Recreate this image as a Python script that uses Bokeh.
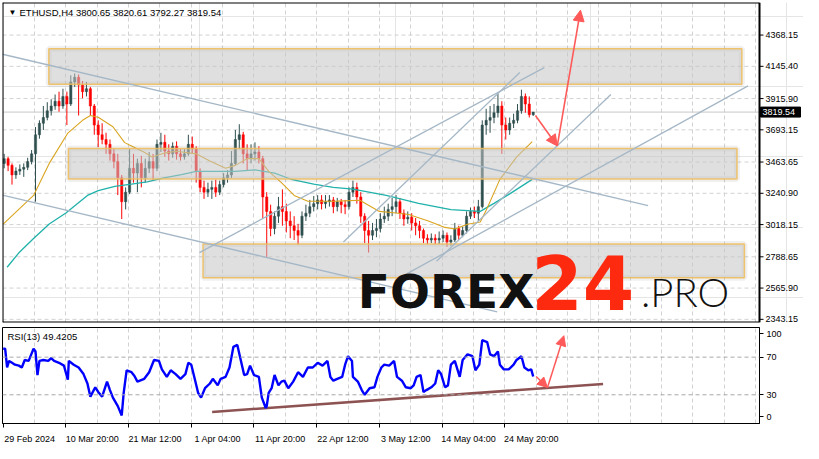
from bokeh.plotting import figure
from bokeh.layouts import column
from bokeh.models import (Range1d, FixedTicker, Label, Span, LinearAxis,
                          ColumnDataSource, Grid, Arrow, NormalHead)
from bokeh.embed import file_html
from bokeh.resources import INLINE
from bokeh.core.properties import value

FONT = "Liberation Sans"

# ---------------- data (ETHUSD H4, one candle per 4 bars) ----------------
open_ = [3454, 3488, 3440, 3372, 3399, 3413, 3426, 3467, 3522, 3658,
         3740, 3781, 3829, 3863, 3897, 3863, 3931, 3877, 4034, 4068,
         4013, 3965, 3986, 3863, 3727, 3658, 3624, 3590, 3522, 3467,
         3351, 3181, 3249, 3419, 3385, 3454, 3351, 3419, 3467, 3419,
         3590, 3604, 3542, 3522, 3576, 3522, 3501, 3522, 3590, 3556,
         3399, 3283, 3249, 3269, 3283, 3249, 3303, 3351, 3372, 3454,
         3624, 3658, 3522, 3488, 3522, 3535, 3488, 3215, 3112, 2990,
         3078, 3146, 3112, 3044, 3010, 2976, 2942, 3078, 3099, 3146,
         3167, 3194, 3167, 3181, 3194, 3146, 3181, 3160, 3146, 3249,
         3283, 3215, 3078, 2976, 2942, 2976, 2990, 3058, 3078, 3126,
         3146, 3181, 3099, 3058, 3071, 3030, 3010, 2976, 2921, 2908,
         2921, 2908, 2921, 2942, 2894, 2908, 2990, 2942, 2976, 3078,
         3112, 3099, 3146, 3727, 3761, 3781, 3815, 3863, 3727, 3692,
         3740, 3761, 3829, 3931, 3877, 3800.65]
close = [3488, 3440, 3372, 3399, 3413, 3426, 3467, 3522, 3658, 3740,
         3781, 3829, 3863, 3897, 3863, 3931, 3877, 4034, 4068, 4013,
         3965, 3986, 3863, 3727, 3658, 3624, 3590, 3522, 3467, 3351,
         3181, 3249, 3419, 3385, 3454, 3351, 3419, 3467, 3419, 3590,
         3604, 3542, 3522, 3576, 3522, 3501, 3522, 3590, 3556, 3399,
         3283, 3249, 3269, 3283, 3249, 3303, 3351, 3372, 3454, 3624,
         3658, 3522, 3488, 3522, 3535, 3488, 3215, 3112, 2990, 3078,
         3146, 3112, 3044, 3010, 2976, 2942, 3078, 3099, 3146, 3167,
         3194, 3167, 3181, 3194, 3146, 3181, 3160, 3146, 3249, 3283,
         3215, 3078, 2976, 2942, 2976, 2990, 3058, 3078, 3126, 3146,
         3181, 3099, 3058, 3071, 3030, 3010, 2976, 2921, 2908, 2921,
         2908, 2921, 2942, 2894, 2908, 2990, 2942, 2976, 3078, 3112,
         3099, 3146, 3727, 3761, 3781, 3815, 3863, 3727, 3692, 3740,
         3761, 3829, 3931, 3877, 3800.65, 3819.54]
high = [3522, 3501, 3454, 3426, 3447, 3454, 3494, 3549, 3713, 3761,
        3863, 3890, 3911, 3945, 3965, 3986, 3965, 4082, 4095, 4088,
        4041, 4034, 3999, 3877, 3761, 3740, 3672, 3624, 3556, 3522,
        3372, 3283, 3556, 3522, 3488, 3508, 3488, 3535, 3522, 3624,
        3672, 3658, 3590, 3604, 3611, 3556, 3556, 3658, 3645, 3576,
        3419, 3331, 3317, 3331, 3338, 3331, 3385, 3406, 3542, 3692,
        3733, 3679, 3590, 3590, 3604, 3576, 3508, 3249, 3160, 3112,
        3215, 3269, 3167, 3112, 3078, 3024, 3112, 3160, 3194, 3222,
        3228, 3228, 3228, 3228, 3215, 3208, 3201, 3194, 3283, 3331,
        3317, 3249, 3099, 3044, 3030, 3058, 3099, 3146, 3167, 3208,
        3228, 3208, 3126, 3112, 3099, 3065, 3044, 2990, 2949, 2955,
        2949, 2969, 2976, 2962, 2942, 3030, 3010, 3003, 3112, 3140,
        3146, 3194, 3761, 3843, 3863, 3877, 3952, 3897, 3781, 3781,
        3808, 3877, 3979, 3952, 3931, 3820.61]
low = [3419, 3399, 3303, 3344, 3372, 3358, 3406, 3447, 3181, 3630,
       3692, 3761, 3795, 3836, 3822, 3843, 3727, 3863, 3999, 3795,
       3918, 3931, 3795, 3658, 3570, 3590, 3522, 3474, 3419, 3228,
       3058, 3126, 3235, 3317, 3249, 3283, 3317, 3385, 3338, 3399,
       3535, 3501, 3474, 3494, 3481, 3474, 3481, 3508, 3522, 3317,
       3249, 3201, 3215, 3201, 3215, 3228, 3283, 3317, 3351, 3440,
       3556, 3454, 3406, 3454, 3474, 3454, 3065, 2785, 2935, 2949,
       3030, 3010, 2962, 2921, 2908, 2874, 2921, 3044, 3071, 3112,
       3126, 3126, 3133, 3146, 3099, 3112, 3099, 3092, 3126, 3215,
       3167, 3030, 2887, 2819, 2908, 2928, 2962, 3030, 3044, 3078,
       3099, 3058, 3010, 3024, 2976, 2942, 2921, 2887, 2880, 2887,
       2880, 2880, 2894, 2860, 2867, 2894, 2908, 2928, 2955, 3058,
       3065, 3044, 3133, 3658, 3672, 3740, 3781, 3522, 3624, 3658,
       3706, 3740, 3808, 3815, 3781, 3792.27]

# moving averages (bar index, price)
ma_fast_bar = [0, 31, 47, 66, 81, 89, 97, 112, 124, 131, 144, 152, 164, 177, 197, 211,
               227, 237, 249, 261, 271, 284, 297, 311, 341, 364, 384, 401, 414, 434,
               451, 461, 474, 487, 494, 507, 524, 540]
ma_fast_val = [3021, 3226, 3454, 3670, 3761, 3795, 3783, 3715, 3602, 3578, 3533, 3499,
               3527, 3540, 3522, 3471, 3419, 3440, 3488, 3488, 3397, 3317, 3226, 3184,
               3185, 3192, 3112, 3101, 3090, 3044, 2998, 2987, 3021, 3037, 3135, 3340,
               3499, 3609]
ma_slow_bar = [4, 16, 31, 47, 64, 86, 97, 114, 131, 147, 164, 182, 197, 237, 257, 277,
               294, 317, 337, 357, 391, 424, 457, 487, 501, 517, 540]
ma_slow_val = [2714, 2817, 2919, 3022, 3101, 3226, 3260, 3290, 3306, 3322, 3351, 3374,
               3397, 3397, 3408, 3385, 3341, 3306, 3283, 3271, 3226, 3169, 3124, 3112,
               3169, 3237, 3340]

# RSI(13)
rsi_bar = [0, 2, 4, 6, 9, 12, 16, 19, 22, 26, 31, 33, 35, 37, 41, 46, 49, 52, 57, 62,
           66, 67, 72, 77, 82, 86, 89, 94, 97, 101, 106, 109, 112, 117, 121, 123, 126,
           131, 134, 137, 144, 149, 154, 159, 162, 167, 171, 176, 181, 186, 189, 192,
           196, 199, 202, 206, 211, 214, 219, 222, 227, 231, 235, 239, 242, 246, 249,
           252, 256, 261, 264, 268, 269, 271, 274, 277, 281, 284, 287, 291, 296, 301,
           306, 311, 316, 321, 326, 331, 334, 337, 341, 346, 349, 352, 356, 357, 362,
           366, 369, 374, 379, 382, 386, 389, 394, 399, 402, 407, 411, 416, 419, 422,
           426, 429, 432, 437, 441, 444, 447, 451, 454, 457, 461, 466, 469, 474, 479,
           482, 486, 489, 494, 497, 501, 505, 507, 511, 516, 521, 524, 529, 532, 536,
           539, 541]
rsi_val = [79, 79, 59, 66, 64, 62, 61, 59, 67, 66, 79, 76, 51, 66, 67, 66, 69, 66, 64, 61,
           46, 66, 62, 59, 52, 42, 28, 38, 33, 28, 44, 35, 27, 18, 8, 32, 56,
           54, 50, 44, 47, 54, 67, 66, 57, 49, 56, 52, 47, 52, 64, 62,
           45, 32, 27, 37, 42, 47, 40, 47, 49, 59, 81, 83, 69, 51, 52,
           61, 51, 49, 27, 16, 18, 32, 37, 51, 40, 44, 45, 37, 44, 54,
           49, 59, 59, 64, 61, 66, 49, 45, 47, 49, 62, 71, 66, 49, 44,
           35, 30, 37, 38, 49, 59, 62, 61, 66, 49, 45, 38, 37, 40, 49,
           51, 33, 35, 38, 42, 56, 52, 38, 40, 62, 66, 49, 67, 73, 71,
           56, 62, 88, 86, 73, 71, 76, 62, 57, 57, 62, 67, 71, 59, 56,
           57, 49.42]

# support / resistance zones
zone_left = [46.6, 66.6, 204.0]
zone_right = [754.0, 749.0, 756.6]
zone_bottom = [4018.0, 3343.0, 2639.4]
zone_top = [4270.6, 3560.7, 2880.3]

# trend lines (bar, price)
tl_x0 = [-0.7, -0.7, 200.3, 347.3, 442.3, 412.3]
tl_y0 = [4231.6, 3228.4, 2818.8, 2894.0, 2757.4, 2668.7]
tl_x1 = [658.3, 504.3, 552.3, 527.3, 620.3, 760.3]
tl_y1 = [3153.3, 2395.7, 4136.1, 4101.5, 3944.7, 4006.4]

# forecast arrows on the price panel and on RSI
arrow_price_x = [543.3, 565.6, 589.3]
arrow_price_y = [3794.8, 3578.5, 4545.6]
arrow_rsi_x = [544.0, 555.6, 572.3]
arrow_rsi_y = [49.4, 37.7, 92.8]
rsi_tl_x = [213.3, 612.3]
rsi_tl_y = [11.8, 41.5]

price_ticks = [2343.15, 2565.90, 2788.65, 3018.15, 3240.90, 3463.65,
               3693.15, 3915.90, 4145.40, 4368.15]
date_tick_bars = [0, 64, 128, 192, 256, 320, 384, 448, 512]
date_labels = ["29 Feb 2024", "10 Mar 20:00", "21 Mar 12:00", "1 Apr 04:00",
               "11 Apr 20:00", "22 Apr 12:00", "3 May 12:00", "14 May 04:00",
               "24 May 20:00"]
grid_bars = list(range(32, 800, 32))
rsi_ticks = [6.5, 30, 70, 95]
rsi_tick_labels = ["0", "30", "70", "100"]

title_text = "ETHUSD,H4  3800.65 3820.61 3792.27 3819.54"
rsi_text = "RSI(13) 49.4205"
last_price = close[-1]

# ---------------- geometry ----------------
BAR0, BAR1 = -0.7, 772.0          # visible bar span of the chart panes
PX_PER_BAR = 757 / (BAR1 - BAR0)
AXIS_W = 44
BAR_AXIS_END = BAR1 + AXIS_W / PX_PER_BAR
P_LO, P_HI = 2320.6, 4600.2
MAIN_H = 320
PX_PER_PRICE = MAIN_H / (P_HI - P_LO)
GRID_COLOR = "#d2d2d2"
ARROW_RED = "#ff5a5a"

# ---------------- main price pane (axis drawn inside the frame) ----------------
p = figure(frame_width=757 + AXIS_W, frame_height=MAIN_H,
           x_range=Range1d(BAR0, BAR_AXIS_END), y_range=Range1d(P_LO, P_HI),
           x_axis_location=None, y_axis_location=None, toolbar_location=None,
           output_backend="svg", min_border_left=2, min_border_top=2,
           min_border_bottom=4, min_border_right=0)
p.background_fill_color = "white"
p.border_fill_color = "white"
p.outline_line_color = None

p.add_layout(Grid(dimension=0, ticker=FixedTicker(ticks=grid_bars),
                  grid_line_color=GRID_COLOR, grid_line_dash="4 3"))
n_ticks = len(price_ticks)
p.segment(x0=[BAR0] * n_ticks, x1=[BAR1] * n_ticks, y0=price_ticks, y1=price_ticks,
          line_color=GRID_COLOR, line_dash="4 3", line_width=1)
p.segment(x0=[BAR0], x1=[BAR1], y0=[last_price], y1=[last_price],
          line_color="#c8c8c8", line_width=1)

n = len(close)
bar_x = [4 * k + 1 for k in range(n)]
colors = ["#2f4f4f" if c >= o else "#ff0000" for o, c in zip(open_, close)]
src = ColumnDataSource(dict(
    x=bar_x, h=high, l=low,
    top=[max(o, c) for o, c in zip(open_, close)],
    bottom=[min(o, c) for o, c in zip(open_, close)],
    color=colors))
p.segment(x0="x", y0="h", x1="x", y1="l", line_color="color", line_width=1, source=src)
p.vbar(x="x", width=2.3, top="top", bottom="bottom", fill_color="color",
       line_color="color", line_width=0.5, source=src)

p.line(ma_slow_bar, ma_slow_val, line_color="#20b2aa", line_width=1.3)
p.line(ma_fast_bar, ma_fast_val, line_color="#daa520", line_width=1.1)

p.quad(left=zone_left, right=zone_right, top=zone_top, bottom=zone_bottom,
       fill_color=None, line_color="#808080", line_alpha=0.12, line_width=6)
p.quad(left=zone_left, right=zone_right, top=zone_top, bottom=zone_bottom,
       fill_color="#c4c4c4", fill_alpha=0.55, line_color="#f0bc58",
       line_alpha=0.85, line_width=1.5)

p.segment(x0=tl_x0, y0=tl_y0, x1=tl_x1, y1=tl_y1, line_color="#a5b7c6", line_width=1.3)

for i in range(len(arrow_price_x) - 1):
    p.add_layout(Arrow(end=NormalHead(size=11, fill_color=ARROW_RED, line_color=ARROW_RED),
                       x_start=arrow_price_x[i], y_start=arrow_price_y[i],
                       x_end=arrow_price_x[i + 1], y_end=arrow_price_y[i + 1],
                       line_color=ARROW_RED, line_width=1.6))

# logo (anchor heights in px above the pane bottom)
logo_parts = [("FOREX", 362, 31, "DejaVu Sans", "bold", 47, "#111111"),
              ("24", 539, 40, "DejaVu Sans", "bold", 74, "#fe2a10"),
              (".PRO", 651, 31, "Lato Light, Lato", "normal", 40, "#111111")]
for txt, bx, up_px, fnt, style, size, col in logo_parts:
    p.add_layout(Label(x=bx, y=P_LO + up_px / PX_PER_PRICE, text=txt,
                       text_font=fnt, text_font_style=style,
                       text_font_size="%dpx" % size, text_color=col,
                       text_baseline="alphabetic"))

# pane border (left, top, bottom at the frame edge; right at the axis line)
p.segment(x0=[BAR0, BAR0, BAR0, BAR1], x1=[BAR1, BAR1, BAR0, BAR1],
          y0=[P_HI, P_LO, P_LO, P_LO], y1=[P_HI, P_LO, P_HI, P_HI],
          line_color="black", line_width=2)

# price scale: ticks + labels, and the current-price box
tick_len = 4 / PX_PER_BAR
p.segment(x0=[BAR1] * n_ticks, x1=[BAR1 + tick_len] * n_ticks, y0=price_ticks,
          y1=price_ticks, line_color="black", line_width=1)
p.text(x=[BAR1] * n_ticks, y=price_ticks, text=["%.2f" % v for v in price_ticks],
       x_offset=6, text_baseline="middle", text_align="left",
       text_font=value(FONT), text_font_size="9px", text_color="black")
box_half = 5 / PX_PER_PRICE
p.quad(left=[BAR1 + 1 / PX_PER_BAR], right=[BAR_AXIS_END - 3 / PX_PER_BAR],
       bottom=[last_price - box_half], top=[last_price + box_half],
       fill_color="black", line_color="black")
p.text(x=[BAR1], y=[last_price], text=["%.2f" % last_price], x_offset=3,
       text_baseline="middle", text_align="left", text_font=value(FONT),
       text_font_size="9px", text_color="white")

# title
p.add_layout(Label(x=BAR0, y=P_HI, x_offset=6, y_offset=-5, text="\u25bc",
                   text_font=FONT, text_font_size="8px", text_color="black",
                   text_baseline="top"))
p.add_layout(Label(x=BAR0, y=P_HI, x_offset=17, y_offset=-4, text=title_text,
                   text_font=FONT, text_font_size="9.5px", text_color="black",
                   text_baseline="top"))

# ---------------- RSI pane ----------------
r = figure(frame_width=757, frame_height=96, x_range=Range1d(BAR0, BAR1),
           y_range=Range1d(-0.5, 101.5), y_axis_location="right",
           x_axis_location="below", toolbar_location=None, output_backend="svg",
           min_border_left=2, min_border_top=1, min_border_right=AXIS_W,
           min_border_bottom=0)
r.background_fill_color = "white"
r.border_fill_color = "white"
r.outline_line_color = "black"
r.outline_line_width = 1

r.yaxis.ticker = FixedTicker(ticks=rsi_ticks)
r.yaxis.major_label_overrides = dict(zip(rsi_ticks, rsi_tick_labels))
r.yaxis.major_tick_in = 0
r.yaxis.major_tick_out = 4
r.yaxis.minor_tick_line_color = None
r.yaxis.major_label_text_font = FONT
r.yaxis.major_label_text_font_size = "9px"
r.yaxis.major_label_text_color = "black"
r.yaxis.major_label_standoff = 3
r.ygrid.visible = False

# tick marks (no labels) at the date positions
r.xaxis.ticker = FixedTicker(ticks=date_tick_bars)
r.xaxis.major_label_overrides = {b: "" for b in date_tick_bars}
r.xaxis.major_label_text_font_size = "1px"
r.xaxis.major_label_standoff = 0
r.xaxis.major_tick_in = 0
r.xaxis.major_tick_out = 4
r.xaxis.minor_tick_line_color = None
r.xaxis.axis_line_color = "black"
# labels that start at their tick mark (MT4 style)
label_shift = 27
label_pos = [b + label_shift for b in date_tick_bars]
date_axis = LinearAxis(ticker=FixedTicker(ticks=label_pos),
                       major_label_overrides=dict(zip(label_pos, date_labels)),
                       major_tick_line_color=None, minor_tick_line_color=None,
                       axis_line_color=None, major_label_standoff=0,
                       major_label_text_font=FONT, major_label_text_font_size="9px",
                       major_label_text_color="black")
r.add_layout(date_axis, "below")

r.xgrid.ticker = FixedTicker(ticks=grid_bars)
r.xgrid.grid_line_color = GRID_COLOR
r.xgrid.grid_line_dash = "4 3"

for lv in (30, 70):
    r.add_layout(Span(location=lv, dimension="width", line_color="#a8a8a8",
                      line_dash="4 3", line_width=1))

r.line(rsi_tl_x, rsi_tl_y, line_color="#8d5252", line_width=2.6)
r.line(rsi_bar, rsi_val, line_color="#0000ff", line_width=2.4)

for i in range(len(arrow_rsi_x) - 1):
    r.add_layout(Arrow(end=NormalHead(size=10, fill_color=ARROW_RED, line_color=ARROW_RED),
                       x_start=arrow_rsi_x[i], y_start=arrow_rsi_y[i],
                       x_end=arrow_rsi_x[i + 1], y_end=arrow_rsi_y[i + 1],
                       line_color=ARROW_RED, line_width=1.5))

r.add_layout(Label(x=BAR0, y=101.5, x_offset=5, y_offset=-3, text=rsi_text,
                   text_font=FONT, text_font_size="9.5px", text_color="black",
                   text_baseline="top"))

layout = column(p, r, spacing=0)
open("out.html", "w").write(file_html(layout, INLINE))
